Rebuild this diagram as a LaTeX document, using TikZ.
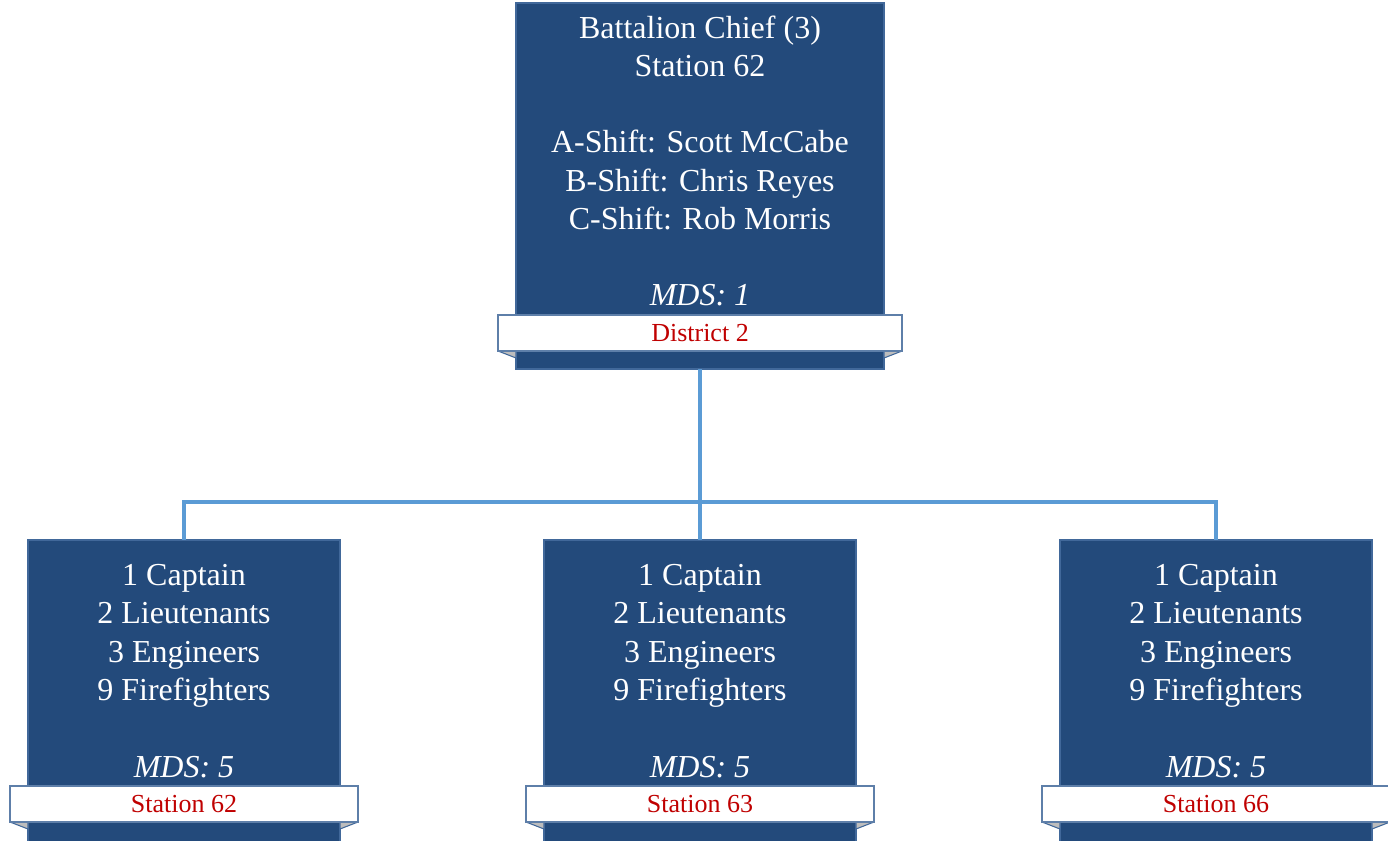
\documentclass[tikz,border=0pt]{standalone}
\usepackage{fontspec}
\setmainfont{Liberation Serif}
\usetikzlibrary{positioning,calc}

\definecolor{unitfill}{HTML}{234A7B}
\definecolor{unitedge}{HTML}{41689A}
\definecolor{linkblue}{HTML}{5B9BD5}
\definecolor{bannerred}{HTML}{C00000}
\definecolor{foldgray}{HTML}{BDBDBD}

\tikzset{
    unitbox/.style={draw=unitedge, fill=unitfill, line width=1pt,
        inner sep=0pt, outer sep=0pt},
    unittext/.style={text=white, align=center, inner sep=0pt,
        font=\fontsize{24}{28.7}\selectfont},
    banner/.style={draw=unitedge!85, fill=white, line width=1pt,
        text=bannerred, inner sep=0pt, outer sep=0pt,
        font=\fontsize{19.5}{22}\selectfont},
    fold/.style={draw=unitedge, fill=foldgray, line width=0.8pt, line join=round},
    link/.style={draw=linkblue, line width=2.5pt}
}

\begin{document}
\begin{tikzpicture}[x=0.75pt, y=-0.75pt]
    \useasboundingbox (0,0) rectangle (1388,841);
    \clip (0,0) rectangle (1388,841);

    % battalion chief
    \node[unitbox, minimum width=276pt, minimum height=274.5pt] (chief) at (700,186) {};
    \node[unittext] (chieftext) at (700,161)
        {Battalion Chief (3)\\ Station 62\\[28.7pt]
         A-Shift: Scott McCabe\\ B-Shift: Chris Reyes\\ C-Shift: Rob Morris\\[28.7pt]
         \textit{MDS: 1}};
    \node[banner, minimum width=303pt, minimum height=27pt] (chiefbanner) at (700,333) {};
    \draw[fold] (chiefbanner.south west) -- (chiefbanner.south west -| chief.west)
        -- ($(chiefbanner.south west -| chief.west)+(0,7)$) -- cycle;
    \draw[fold] (chiefbanner.south east) -- (chiefbanner.south east -| chief.east)
        -- ($(chiefbanner.south east -| chief.east)+(0,7)$) -- cycle;
    \node[banner, minimum width=303pt, minimum height=27pt] at (chiefbanner) {District 2};

    % stations
    \coordinate (bus) at (700,502);
    \draw[link] (chief.south) -- (bus);
    \foreach \name/\cx/\stn in {sta/184/62, stb/700/63, stc/1216/66} {
        \node[unitbox, minimum width=234pt, minimum height=240pt] (\name) at (\cx,700) {};
        \node[unittext] (\name text) at (\cx,671)
            {1 Captain\\ 2 Lieutenants\\ 3 Engineers\\ 9 Firefighters\\[28.7pt]
             \textit{MDS: 5}};
        \node[banner, minimum width=261pt, minimum height=27pt] (\name banner) at (\cx,804) {};
        \draw[fold] (\name banner.south west) -- (\name banner.south west -| \name.west)
            -- ($(\name banner.south west -| \name.west)+(0,7)$) -- cycle;
        \draw[fold] (\name banner.south east) -- (\name banner.south east -| \name.east)
            -- ($(\name banner.south east -| \name.east)+(0,7)$) -- cycle;
        \node[banner, minimum width=261pt, minimum height=27pt] at (\name banner) {Station \stn};
        \draw[link] (bus) -| (\name.north);
    }
\end{tikzpicture}
\end{document}
